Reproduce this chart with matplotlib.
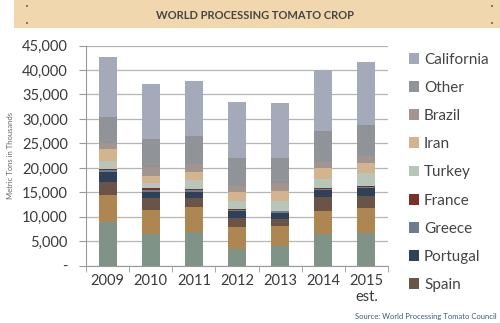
import matplotlib
matplotlib.use("Agg")
import matplotlib.pyplot as plt
from matplotlib.patches import Rectangle, Patch
import numpy as np

plt.rcParams['font.family'] = ['Lato', 'DejaVu Sans']

years = ["2009", "2010", "2011", "2012", "2013", "2014", "2015\nest."]

# thousand metric tons, bottom to top
china      = [8900, 6400, 7000, 3500, 4100, 6500, 6700]
italy      = [5600, 5000, 5000, 4400, 4000, 4800, 5100]
spain      = [2700, 2400, 1900, 1900, 1500, 2700, 2500]
portugal   = [1900, 1300, 1200, 1300, 1200, 1400, 1500]
greece     = [400, 400, 350, 300, 300, 350, 400]
france     = [200, 300, 200, 200, 200, 200, 200]
turkey     = [1700, 1200, 1800, 1700, 2000, 1700, 2500]
iran       = [2500, 1400, 1800, 1700, 1900, 2300, 2100]
brazil     = [1100, 1800, 1600, 1400, 1700, 1300, 1500]
other      = [5500, 5800, 5700, 5700, 5200, 6200, 6200]
california = [12100, 11200, 11200, 11400, 11200, 12500, 12900]

series = [("China", china, "#7f9487"), ("Italy", italy, "#ad8652"),
          ("Spain", spain, "#6a5447"), ("Portugal", portugal, "#2e4158"),
          ("Greece", greece, "#6e7c92"), ("France", france, "#7b3027"),
          ("Turkey", turkey, "#b8c6ba"), ("Iran", iran, "#d3b48e"),
          ("Brazil", brazil, "#a2958f"), ("Other", other, "#909398"),
          ("California", california, "#a4aab9")]
legend_names = ["California", "Other", "Brazil", "Iran", "Turkey",
                "France", "Greece", "Portugal", "Spain"]

fig = plt.figure(figsize=(5, 3.23), dpi=100)
ax = fig.add_axes([0.172, 0.177, 0.604, 0.682])

# wooden title banner
fig.patches.append(Rectangle((0.028, 0.912), 0.972, 0.088, transform=fig.transFigure,
                             facecolor="#f1d7ae", edgecolor="none", zorder=0))
for sx in [0.054, 0.984]:
    for sy in [0.929, 0.981]:
        fig.patches.append(Rectangle((sx - 0.002, sy - 0.003), 0.004, 0.006,
                                     transform=fig.transFigure,
                                     facecolor="#8a7560", edgecolor="none"))
fig.text(0.51, 0.953, "WORLD PROCESSING TOMATO CROP", ha="center", va="center",
         fontsize=8, fontweight="bold", color="#454545")

x = np.arange(len(years))
bottom = np.zeros(len(years))
colors = {}
for name, vals, col in series:
    vals = np.array(vals)
    ax.bar(x, vals, 0.42, bottom=bottom, color=col, edgecolor="none", zorder=3)
    bottom += vals
    colors[name] = col

ax.set_xlim(-0.5, len(years) - 0.5)
ax.set_ylim(0, 45000)
ax.set_yticks(np.arange(0, 45001, 5000))
ax.set_yticklabels(["-"] + [f"{v:,}" for v in range(5000, 45001, 5000)],
                   fontsize=10.5, color="#3a3a3a")
ax.set_xticks(x)
ax.set_xticklabels(years, fontsize=10.5, color="#3a3a3a", linespacing=1.2)
ax.set_xticks(np.arange(-0.5, len(years)), minor=True)
ax.tick_params(axis="x", which="major", length=0, pad=6)
ax.tick_params(axis="x", which="minor", length=4, color="#999999")
ax.tick_params(axis="y", length=5, color="#999999", pad=8)
ax.grid(axis="y", color="#b5b5b5", linewidth=0.9, zorder=0)
for s in ["top", "right"]:
    ax.spines[s].set_visible(False)
for s in ["left", "bottom"]:
    ax.spines[s].set_color("#999999")

ax.set_ylabel("Metric Tons in Thousands", fontsize=5.5, color="#666666", labelpad=6)

handles = [Patch(facecolor=colors[n], edgecolor="none") for n in legend_names]
fig.legend(handles, legend_names, loc="upper left", bbox_to_anchor=(0.79, 0.88),
           frameon=False, fontsize=11, labelspacing=0.93, handlelength=0.7,
           handleheight=0.7, handletextpad=0.3, labelcolor="#444444")

fig.text(0.994, 0.01, "Source: World Processing Tomato Council", ha="right", va="bottom",
         fontsize=5.5, color="#3d5c7a")

fig.savefig("out.png", dpi=100, facecolor="white")
